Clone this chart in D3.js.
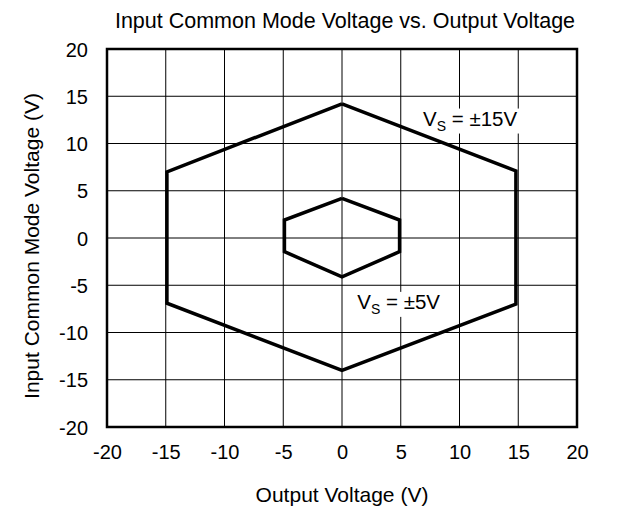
<!DOCTYPE html>
<html><head><meta charset="utf-8">
<script src="https://cdn.jsdelivr.net/npm/d3@7"></script>
<style>body{margin:0;background:#fff}svg{display:block}text{font-family:"Liberation Sans",Arial,sans-serif;fill:#000}</style>
</head><body>
<svg id="c" width="620" height="511"></svg>
<script>
const ticks = [-20,-15,-10,-5,0,5,10,15,20];
const vs15X = [0, 14.8, 14.8, 0, -14.9, -14.9, 0];
const vs15Y = [14.2, 7.1, -7.0, -14.0, -6.9, 7.0, 14.2];
const vs5X = [0, 4.9, 4.9, 0, -4.9, -4.9, 0];
const vs5Y = [4.2, 1.9, -1.45, -4.1, -1.45, 1.9, 4.2];
const labels = [{main:"V", sub:"S", rest:" = ±15V", x:6.9, y:11.9}, {main:"V", sub:"S", rest:" = ±5V", x:1.3, y:-7.5}];

const svg = d3.select("#c");
const L=107,R=577,T=49,B=427;
const x = d3.scaleLinear().domain([-20,20]).range([L,R]);
const y = d3.scaleLinear().domain([-20,20]).range([B,T]);

const g = svg.append("g");
g.selectAll(".vg").data(ticks.slice(1,-1)).join("line")
  .attr("x1",d=>x(d)).attr("x2",d=>x(d)).attr("y1",T).attr("y2",B)
  .attr("stroke","#000").attr("stroke-width",1);
g.selectAll(".hg").data(ticks.slice(1,-1)).join("line").attr("class","hg")
  .attr("y1",d=>y(d)).attr("y2",d=>y(d)).attr("x1",L).attr("x2",R)
  .attr("stroke","#000").attr("stroke-width",1);

const lbl = svg.append("g");
labels.forEach(l=>{
  const t = lbl.append("text").attr("x",x(l.x)).attr("y",y(l.y)).attr("font-size",20.5);
  t.append("tspan").text(l.main);
  t.append("tspan").text(l.sub).attr("font-size",14).attr("dy",5);
  t.append("tspan").text(l.rest).attr("dy",-5);
  const bb = t.node().getBBox();
  lbl.insert("rect","text").attr("x",bb.x-2).attr("y",bb.y+2).attr("width",bb.width+4).attr("height",bb.height-2).attr("fill","#fff");
});

const line = d3.line().x(d=>x(d[0])).y(d=>y(d[1]));
[[vs15X,vs15Y],[vs5X,vs5Y]].forEach(([xs,ys])=>{
  svg.append("path").datum(xs.map((v,i)=>[v,ys[i]])).attr("d",line)
    .attr("fill","none").attr("stroke","#000").attr("stroke-width",3.5).attr("stroke-linejoin","miter");
});

svg.append("rect").attr("x",L).attr("y",T).attr("width",R-L).attr("height",B-T)
  .attr("fill","none").attr("stroke","#000").attr("stroke-width",2.5);

const fmt = d => String(d);
const xa = svg.append("g").attr("transform",`translate(0,${B})`)
  .call(d3.axisBottom(x).tickValues(ticks).tickSize(0).tickPadding(0).tickFormat(fmt));
xa.select(".domain").remove();
xa.selectAll("text").attr("font-size",20).attr("font-family","Liberation Sans, Arial, sans-serif").attr("dy",null).attr("y",32);

const ya = svg.append("g").attr("transform",`translate(${L},0)`)
  .call(d3.axisLeft(y).tickValues(ticks).tickSize(0).tickPadding(0).tickFormat(fmt));
ya.select(".domain").remove();
ya.selectAll("text").attr("font-size",20).attr("font-family","Liberation Sans, Arial, sans-serif").attr("x",-19).attr("dy","0.35em");

svg.append("text").attr("x",345).attr("y",28).attr("text-anchor","middle").attr("font-size",21.5)
  .text("Input Common Mode Voltage vs. Output Voltage");
svg.append("text").attr("x",342).attr("y",502).attr("text-anchor","middle").attr("font-size",21)
  .text("Output Voltage (V)");
svg.append("text").attr("transform","translate(39,246) rotate(-90)").attr("text-anchor","middle").attr("font-size",21)
  .text("Input Common Mode Voltage (V)");
</script>
</body></html>
